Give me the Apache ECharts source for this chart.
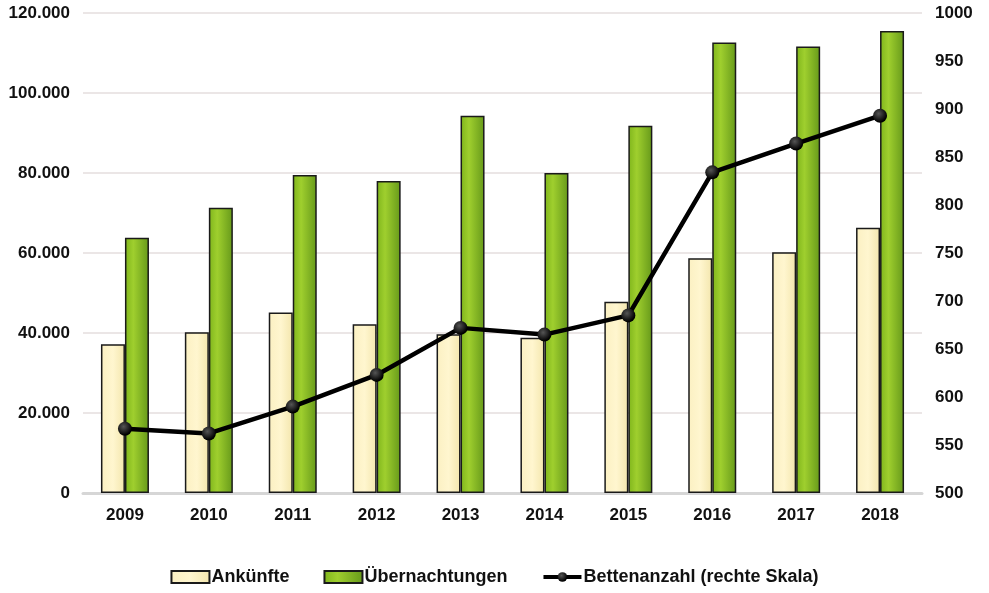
<!DOCTYPE html>
<html>
<head>
<meta charset="utf-8">
<script src="https://cdn.jsdelivr.net/npm/echarts@6/dist/echarts.min.js"></script>
<style>
  html, body { margin: 0; padding: 0; background: #fff; }
  #chart { width: 989px; height: 593px; }
</style>
</head>
<body>
<div id="chart"></div>
<script>
// Jahre
const years = ['2009', '2010', '2011', '2012', '2013', '2014', '2015', '2016', '2017', '2018']
// Ankünfte (linke Skala)
const ankuenfte = [37200, 40200, 45100, 42200, 39700, 38800, 47800, 58700, 60200, 66300]
// Übernachtungen (linke Skala)
const uebernachtungen = [63800, 71300, 79500, 78000, 94300, 80000, 91800, 112600, 111600, 115500]
// Bettenanzahl (rechte Skala)
const betten = [567, 562, 590, 623, 672, 665, 685, 834, 864, 893]

const chart = echarts.init(document.getElementById('chart'))

function fmtDe(v) {
  return String(v).replace(/\B(?=(\d{3})+(?!\d))/g, '.')
}

const labelFont = {
  fontFamily: 'Liberation Sans',
  fontWeight: 'bold',
  fontSize: 17,
  color: '#111'
}

const option = {
  animation: false,
  grid: {
    left: 83,
    right: 67,
    top: 13,
    bottom: 100
  },
  legend: {
    bottom: 2,
    left: 'center',
    itemWidth: 38,
    itemHeight: 12,
    itemGap: 34,
    textStyle: Object.assign({}, labelFont, { fontSize: 18, padding: [0, 0, 0, -3] }),
    data: [
      { name: 'Ankünfte', icon: 'rect' },
      { name: 'Übernachtungen', icon: 'rect' },
      { name: 'Bettenanzahl (rechte Skala)', lineStyle: { width: 4 } }
    ]
  },
  xAxis: {
    type: 'category',
    data: years,
    axisLine: { lineStyle: { color: '#d6d6d6', width: 3 } },
    axisTick: { show: false },
    axisLabel: Object.assign({}, labelFont, { margin: 14 })
  },
  yAxis: [
    {
      type: 'value',
      min: 0,
      max: 120000,
      interval: 20000,
      axisLine: { show: false },
      axisTick: { show: false },
      splitLine: { lineStyle: { color: '#e4dede', width: 1.5 } },
      axisLabel: Object.assign({}, labelFont, {
        margin: 13,
        formatter: function(v) { return fmtDe(v) }
      })
    },
    {
      type: 'value',
      min: 500,
      max: 1000,
      interval: 50,
      position: 'right',
      axisLine: { show: false },
      axisTick: { show: false },
      splitLine: { show: false },
      axisLabel: Object.assign({}, labelFont, {
        margin: 13,
        formatter: function(v) { return String(v) }
      })
    }
  ],
  series: [
    {
      name: 'Ankünfte',
      type: 'bar',
      data: ankuenfte,
      barWidth: 24,
      barGap: '0%',
      itemStyle: {
        color: new echarts.graphic.LinearGradient(0, 0, 1, 0, [
          { offset: 0, color: '#fbf0c2' },
          { offset: 0.5, color: '#fff6cf' },
          { offset: 1, color: '#f3e6ad' }
        ]),
        borderColor: '#1a1a1a',
        borderWidth: 1.5
      }
    },
    {
      name: 'Übernachtungen',
      type: 'bar',
      data: uebernachtungen,
      barWidth: 24,
      barGap: '0%',
      itemStyle: {
        color: new echarts.graphic.LinearGradient(0, 0, 1, 0, [
          { offset: 0, color: '#7fb51c' },
          { offset: 0.35, color: '#9fcf2e' },
          { offset: 1, color: '#66991a' }
        ]),
        borderColor: '#1a1a1a',
        borderWidth: 1.5
      }
    },
    {
      name: 'Bettenanzahl (rechte Skala)',
      type: 'line',
      yAxisIndex: 1,
      data: betten,
      symbol: 'circle',
      symbolSize: 14,
      lineStyle: { color: '#000', width: 4.5 },
      itemStyle: {
        color: new echarts.graphic.RadialGradient(0.4, 0.35, 0.6, [
          { offset: 0, color: '#555' },
          { offset: 1, color: '#000' }
        ])
      },
      z: 5
    }
  ]
}

chart.setOption(option)
window.addEventListener('resize', function() {
  chart.resize()
})
</script>
</body>
</html>
